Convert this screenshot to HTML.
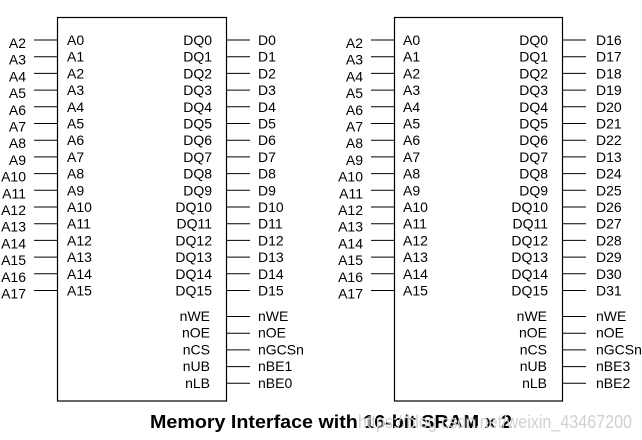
<!DOCTYPE html>
<html><head><meta charset="utf-8"><style>
html,body{margin:0;padding:0;background:#fff}
svg{display:block}
text{font-family:"Liberation Sans",Arial,sans-serif;font-size:14px;fill:#000}
.t{font-size:18px;font-weight:bold}
.w{font-size:18px;fill:#d0d0d0}
</style></head><body>
<svg width="642" height="440" viewBox="0 0 642 440" xmlns="http://www.w3.org/2000/svg">
<g stroke="#000" stroke-width="1.2" fill="none">
<rect x="57.5" y="17.5" width="169" height="383.5"/>
<rect x="394.5" y="17.5" width="168" height="383.5"/>
</g>
<g stroke="#000" stroke-width="1">
<path d="M34 40H57M34 56.7H57M34 73.4H57M34 90.1H57M34 106.8H57M34 123.5H57M34 140.2H57M34 156.9H57M34 173.6H57M34 190.3H57M34 207H57M34 223.7H57M34 240.4H57M34 257.1H57M34 273.8H57M34 290.5H57"/>
<path d="M227 40H250M227 56.7H250M227 73.4H250M227 90.1H250M227 106.8H250M227 123.5H250M227 140.2H250M227 156.9H250M227 173.6H250M227 190.3H250M227 207H250M227 223.7H250M227 240.4H250M227 257.1H250M227 273.8H250M227 290.5H250M227 316.5H250M227 333.2H250M227 349.9H250M227 366.6H250M227 383.3H250"/>
<path d="M371 40H394M371 56.7H394M371 73.4H394M371 90.1H394M371 106.8H394M371 123.5H394M371 140.2H394M371 156.9H394M371 173.6H394M371 190.3H394M371 207H394M371 223.7H394M371 240.4H394M371 257.1H394M371 273.8H394M371 290.5H394"/>
<path d="M563 40H586M563 56.7H586M563 73.4H586M563 90.1H586M563 106.8H586M563 123.5H586M563 140.2H586M563 156.9H586M563 173.6H586M563 190.3H586M563 207H586M563 223.7H586M563 240.4H586M563 257.1H586M563 273.8H586M563 290.5H586M563 316.5H586M563 333.2H586M563 349.9H586M563 366.6H586M563 383.3H586"/>
</g>
<g text-anchor="end">
<text x="26" y="48">A2</text><text x="26" y="64.7">A3</text><text x="26" y="81.4">A4</text><text x="26" y="98.1">A5</text><text x="26" y="114.8">A6</text><text x="26" y="131.5">A7</text><text x="26" y="148.2">A8</text><text x="26" y="164.9">A9</text><text x="26" y="181.6">A10</text><text x="26" y="198.3">A11</text><text x="26" y="215">A12</text><text x="26" y="231.7">A13</text><text x="26" y="248.4">A14</text><text x="26" y="265.1">A15</text><text x="26" y="281.8">A16</text><text x="26" y="298.5">A17</text>
<text x="363" y="48">A2</text><text x="363" y="64.7">A3</text><text x="363" y="81.4">A4</text><text x="363" y="98.1">A5</text><text x="363" y="114.8">A6</text><text x="363" y="131.5">A7</text><text x="363" y="148.2">A8</text><text x="363" y="164.9">A9</text><text x="363" y="181.6">A10</text><text x="363" y="198.3">A11</text><text x="363" y="215">A12</text><text x="363" y="231.7">A13</text><text x="363" y="248.4">A14</text><text x="363" y="265.1">A15</text><text x="363" y="281.8">A16</text><text x="363" y="298.5">A17</text>
<text x="212" y="45">DQ0</text><text x="212" y="61.7">DQ1</text><text x="212" y="78.4">DQ2</text><text x="212" y="95.1">DQ3</text><text x="212" y="111.8">DQ4</text><text x="212" y="128.5">DQ5</text><text x="212" y="145.2">DQ6</text><text x="212" y="161.9">DQ7</text><text x="212" y="178.6">DQ8</text><text x="212" y="195.3">DQ9</text><text x="212" y="212">DQ10</text><text x="212" y="228.7">DQ11</text><text x="212" y="245.4">DQ12</text><text x="212" y="262.1">DQ13</text><text x="212" y="278.8">DQ14</text><text x="212" y="295.5">DQ15</text>
<text x="210" y="321">nWE</text><text x="210" y="337.7">nOE</text><text x="210" y="354.4">nCS</text><text x="210" y="371.1">nUB</text><text x="210" y="387.8">nLB</text>
<text x="548" y="45">DQ0</text><text x="548" y="61.7">DQ1</text><text x="548" y="78.4">DQ2</text><text x="548" y="95.1">DQ3</text><text x="548" y="111.8">DQ4</text><text x="548" y="128.5">DQ5</text><text x="548" y="145.2">DQ6</text><text x="548" y="161.9">DQ7</text><text x="548" y="178.6">DQ8</text><text x="548" y="195.3">DQ9</text><text x="548" y="212">DQ10</text><text x="548" y="228.7">DQ11</text><text x="548" y="245.4">DQ12</text><text x="548" y="262.1">DQ13</text><text x="548" y="278.8">DQ14</text><text x="548" y="295.5">DQ15</text>
<text x="547" y="321">nWE</text><text x="547" y="337.7">nOE</text><text x="547" y="354.4">nCS</text><text x="547" y="371.1">nUB</text><text x="547" y="387.8">nLB</text>
</g>
<g>
<text x="67" y="45">A0</text><text x="67" y="61.7">A1</text><text x="67" y="78.4">A2</text><text x="67" y="95.1">A3</text><text x="67" y="111.8">A4</text><text x="67" y="128.5">A5</text><text x="67" y="145.2">A6</text><text x="67" y="161.9">A7</text><text x="67" y="178.6">A8</text><text x="67" y="195.3">A9</text><text x="67" y="212">A10</text><text x="67" y="228.7">A11</text><text x="67" y="245.4">A12</text><text x="67" y="262.1">A13</text><text x="67" y="278.8">A14</text><text x="67" y="295.5">A15</text>
<text x="403" y="45">A0</text><text x="403" y="61.7">A1</text><text x="403" y="78.4">A2</text><text x="403" y="95.1">A3</text><text x="403" y="111.8">A4</text><text x="403" y="128.5">A5</text><text x="403" y="145.2">A6</text><text x="403" y="161.9">A7</text><text x="403" y="178.6">A8</text><text x="403" y="195.3">A9</text><text x="403" y="212">A10</text><text x="403" y="228.7">A11</text><text x="403" y="245.4">A12</text><text x="403" y="262.1">A13</text><text x="403" y="278.8">A14</text><text x="403" y="295.5">A15</text>
<text x="258" y="45">D0</text><text x="258" y="61.7">D1</text><text x="258" y="78.4">D2</text><text x="258" y="95.1">D3</text><text x="258" y="111.8">D4</text><text x="258" y="128.5">D5</text><text x="258" y="145.2">D6</text><text x="258" y="161.9">D7</text><text x="258" y="178.6">D8</text><text x="258" y="195.3">D9</text><text x="258" y="212">D10</text><text x="258" y="228.7">D11</text><text x="258" y="245.4">D12</text><text x="258" y="262.1">D13</text><text x="258" y="278.8">D14</text><text x="258" y="295.5">D15</text>
<text x="258" y="321">nWE</text><text x="258" y="337.7">nOE</text><text x="258" y="354.4">nGCSn</text><text x="258" y="371.1">nBE1</text><text x="258" y="387.8">nBE0</text>
<text x="596" y="45">D16</text><text x="596" y="61.7">D17</text><text x="596" y="78.4">D18</text><text x="596" y="95.1">D19</text><text x="596" y="111.8">D20</text><text x="596" y="128.5">D21</text><text x="596" y="145.2">D22</text><text x="596" y="161.9">D13</text><text x="596" y="178.6">D24</text><text x="596" y="195.3">D25</text><text x="596" y="212">D26</text><text x="596" y="228.7">D27</text><text x="596" y="245.4">D28</text><text x="596" y="262.1">D29</text><text x="596" y="278.8">D30</text><text x="596" y="295.5">D31</text>
<text x="596" y="321">nWE</text><text x="596" y="337.7">nOE</text><text x="596" y="354.4">nGCSn</text><text x="596" y="371.1">nBE3</text><text x="596" y="387.8">nBE2</text>
</g>
<text class="t" x="150" y="428" textLength="362" lengthAdjust="spacingAndGlyphs">Memory Interface with 16-bit SRAM x 2</text>
<text class="w" x="358" y="428" textLength="274" lengthAdjust="spacingAndGlyphs">https://blog.csdn.net/weixin_43467200</text>
</svg>
</body></html>
